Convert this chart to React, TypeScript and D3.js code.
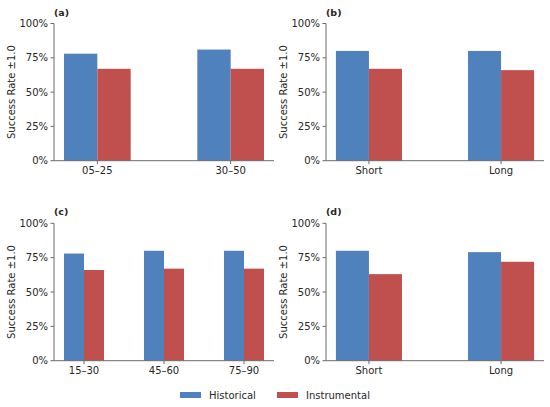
import React from "react";
import * as d3 from "d3";

// series
const seriesNames = ["Historical", "Instrumental"];
const seriesColors = ["#4f81bd", "#c0504d"];

// panel categories and values (fractions)
const catsA = ["05–25", "30–50"];
const histA = [0.78, 0.81];
const instA = [0.67, 0.67];

const catsB = ["Short", "Long"];
const histB = [0.8, 0.8];
const instB = [0.67, 0.66];

const catsC = ["15–30", "45–60", "75–90"];
const histC = [0.78, 0.8, 0.8];
const instC = [0.66, 0.67, 0.67];

const catsD = ["Short", "Long"];
const histD = [0.8, 0.79];
const instD = [0.63, 0.72];

const yTicks = [0, 0.25, 0.5, 0.75, 1];

const FONT = "DejaVu Sans, sans-serif";
const TEXT = "#262626";
const AXIS = "#6b6b6b";

interface PanelProps {
  label: string;
  cats: string[];
  hist: number[];
  inst: number[];
  left: number;
  right: number;
  top: number;
  bottom: number;
}

const Panel: React.FC<PanelProps> = ({ label, cats, hist, inst, left, right, top, bottom }) => {
  const barW = 0.25;
  const n = cats.length;
  // matplotlib-like 5% margins around bar extent
  const lo = -barW;
  const hi = n - 1 + barW;
  const pad = (hi - lo) * 0.05;
  const x = d3.scaleLinear().domain([lo - pad, hi + pad]).range([left, right]);
  const y = d3.scaleLinear().domain([0, 1]).range([bottom, top]);
  const fmt = d3.format(".0%");

  return (
    <g>
      {/* bars */}
      {cats.map((c, i) => (
        <g key={c}>
          <rect
            x={x(i - barW)}
            y={y(hist[i])}
            width={x(i) - x(i - barW)}
            height={y(0) - y(hist[i])}
            fill={seriesColors[0]}
          />
          <rect
            x={x(i)}
            y={y(inst[i])}
            width={x(i + barW) - x(i)}
            height={y(0) - y(inst[i])}
            fill={seriesColors[1]}
          />
        </g>
      ))}

      {/* axes */}
      <line x1={left} x2={left} y1={top} y2={bottom} stroke={AXIS} strokeWidth={1} />
      <line x1={left} x2={right} y1={bottom} y2={bottom} stroke={AXIS} strokeWidth={1} />

      {/* y ticks */}
      {yTicks.map((t) => (
        <g key={t}>
          <line x1={left - 3.5} x2={left} y1={y(t)} y2={y(t)} stroke={AXIS} />
          <text
            x={left - 6}
            y={y(t)}
            textAnchor="end"
            dominantBaseline="central"
            fontSize={10}
            fill={TEXT}
          >
            {fmt(t)}
          </text>
        </g>
      ))}

      {/* x ticks */}
      {cats.map((c, i) => (
        <g key={c}>
          <line x1={x(i)} x2={x(i)} y1={bottom} y2={bottom + 3.5} stroke={AXIS} />
          <text x={x(i)} y={bottom + 13.5} textAnchor="middle" fontSize={10} fill={TEXT}>
            {c}
          </text>
        </g>
      ))}

      {/* y label */}
      <text
        transform={`translate(${left - 43},${(top + bottom) / 2}) rotate(-90)`}
        textAnchor="middle"
        dominantBaseline="central"
        fontSize={10}
        fill={TEXT}
      >
        Success Rate ±1.0
      </text>

      {/* panel label */}
      <text x={left} y={top - 8} fontSize={9.5} fontWeight="bold" fill={TEXT}>
        {label}
      </text>
    </g>
  );
};

const App: React.FC = () => {
  const width = 550;
  const height = 407;
  const legendY = 395;
  const legendItems = [
    { x: 180, name: seriesNames[0], color: seriesColors[0] },
    { x: 277, name: seriesNames[1], color: seriesColors[1] },
  ];

  return (
    <svg
      width={width}
      height={height}
      style={{ position: "absolute", left: 0, top: 0, background: "#fff" }}
      fontFamily={FONT}
    >
      <Panel label="(a)" cats={catsA} hist={histA} inst={instA} left={54} right={274} top={23.5} bottom={160.7} />
      <Panel label="(b)" cats={catsB} hist={histB} inst={instB} left={326} right={544} top={23.5} bottom={160.7} />
      <Panel label="(c)" cats={catsC} hist={histC} inst={instC} left={54} right={274} top={223.3} bottom={360.7} />
      <Panel label="(d)" cats={catsD} hist={histD} inst={instD} left={326} right={544} top={223.3} bottom={360.7} />

      {/* legend */}
      {legendItems.map((d) => (
        <g key={d.name}>
          <rect x={d.x} y={legendY - 3} width={21} height={6} fill={d.color} />
          <text x={d.x + 29} y={legendY} dominantBaseline="central" fontSize={10} fill={TEXT}>
            {d.name}
          </text>
        </g>
      ))}
    </svg>
  );
};

export default App;
